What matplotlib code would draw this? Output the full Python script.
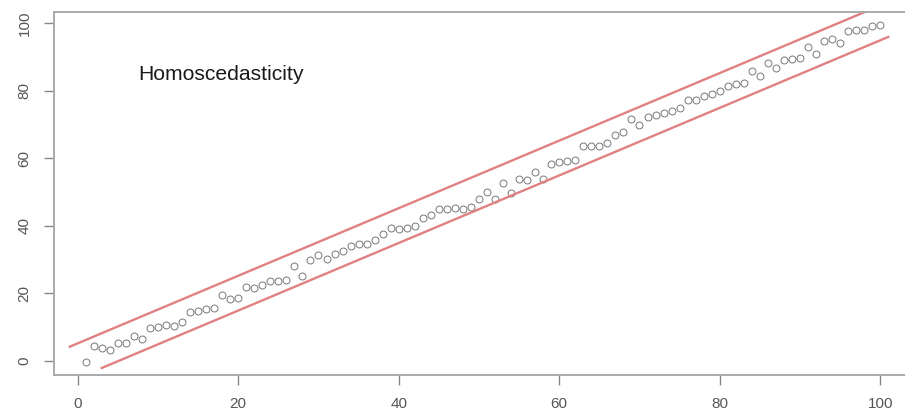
import matplotlib
matplotlib.use("Agg")
import matplotlib.pyplot as plt
import numpy as np

x_vals = list(range(1, 101))
y_vals = [-0.2, 4.5, 3.9, 3.3, 5.3, 5.3, 7.5, 6.5, 9.8, 10.0,
          10.7, 10.4, 11.6, 14.5, 14.8, 15.4, 15.7, 19.6, 18.4, 18.7,
          22.0, 21.7, 22.6, 23.7, 23.7, 24.0, 28.2, 25.0, 30.0, 31.2,
          30.3, 31.5, 32.6, 34.0, 34.7, 34.7, 35.9, 37.7, 39.2, 38.9,
          39.2, 39.8, 42.4, 43.3, 45.1, 45.1, 45.4, 45.1, 45.7, 47.8,
          49.9, 48.0, 52.8, 49.6, 53.7, 53.4, 56.0, 53.7, 58.2, 59.0,
          59.3, 59.6, 63.5, 63.5, 63.5, 64.4, 66.8, 67.7, 71.5, 69.7,
          72.1, 72.7, 73.3, 73.9, 74.8, 77.2, 77.2, 78.3, 78.9, 79.8,
          81.3, 81.9, 82.2, 85.8, 84.3, 88.1, 86.6, 89.0, 89.3, 89.6,
          92.9, 90.8, 94.7, 95.3, 94.1, 97.6, 97.9, 97.9, 99.1, 99.3]

upper_x = [-1, 100]
upper_offset = 5.2
lower_x = [3, 101]
lower_offset = -5.1

x_ticks = [0, 20, 40, 60, 80, 100]
y_ticks = [0, 20, 40, 60, 80, 100]
label_text = "Homoscedasticity"

plt.rcParams['font.family'] = ['Liberation Sans', 'DejaVu Sans']

fig = plt.figure(figsize=(9.05, 4.16), dpi=100)
ax = fig.add_axes([54/905, 41/416, 858/905, 363/416])

ax.plot(x_vals, y_vals, linestyle='none', marker='o', markersize=5.0,
        markerfacecolor='none', markeredgecolor='#777777', markeredgewidth=0.7)

red = '#e08080'
ax.plot(upper_x, [v + upper_offset for v in upper_x], color=red, lw=1.7)
ax.plot(lower_x, [v + lower_offset for v in lower_x], color=red, lw=1.7)

xmin, xmax = min(x_vals), max(x_vals)
ymin, ymax = min(y_vals), max(y_vals)
xp = 0.04 * (xmax - xmin)
yp = 0.04 * (ymax - ymin)
ax.set_xlim(xmin - xp, xmax + xp)
ax.set_ylim(ymin - yp, ymax + yp)

ax.set_xticks(x_ticks)
ax.set_yticks(y_ticks)
ax.set_xticklabels([str(t) for t in x_ticks])
ax.set_yticklabels([str(t) for t in y_ticks], rotation=90, va='center')

ax.tick_params(axis='both', direction='out', length=7.2, width=1.0,
               color='#888888', labelcolor='#555555', labelsize=11)
ax.tick_params(axis='x', pad=9)
ax.tick_params(axis='y', pad=9)

for s in ax.spines.values():
    s.set_color('#aaaaaa')
    s.set_linewidth(1.4)

ax.text(7.5, 84.9, label_text, fontsize=15.2, color='#1a1a1a',
        ha='left', va='center')

fig.savefig('out.png', dpi=100)
